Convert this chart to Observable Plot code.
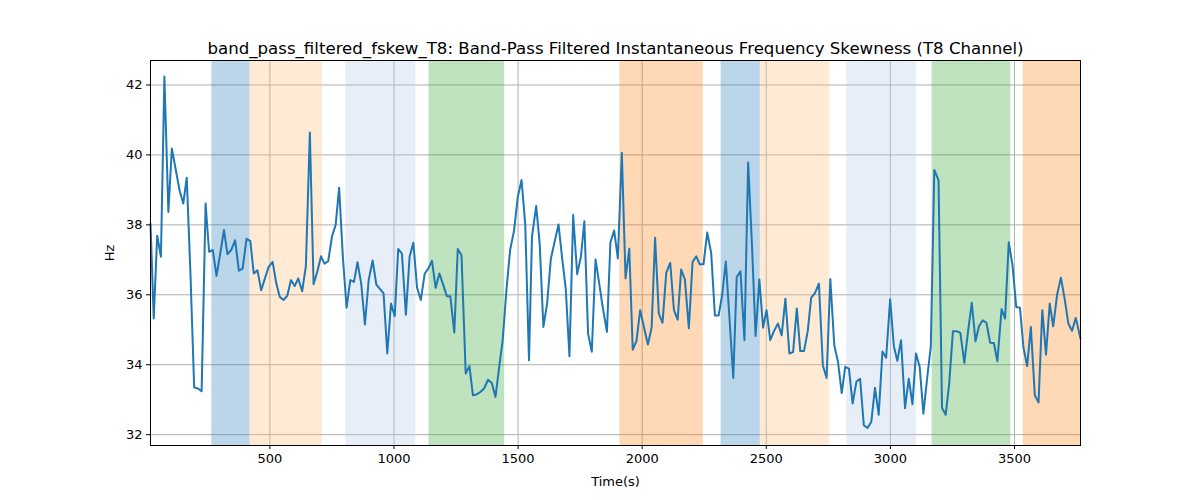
<!DOCTYPE html>
<html>
<head>
<meta charset="utf-8">
<script src="https://cdn.jsdelivr.net/npm/d3@7"></script>
<script src="https://cdn.jsdelivr.net/npm/@observablehq/plot@0.6"></script>
<style>
  html, body { margin: 0; padding: 0; background: #fff; }
  #chart svg { display: block; }
</style>
</head>
<body>
<div id="chart"></div>
<script>
const titleText = "band_pass_filtered_fskew_T8: Band-Pass Filtered Instantaneous Frequency Skewness (T8 Channel)";
const xLabel = "Time(s)";
const yLabel = "Hz";
const xTicks = [500, 1000, 1500, 2000, 2500, 3000, 3500];
const yTicks = [32, 34, 36, 38, 40, 42];

const times = [
  19, 32, 46, 61, 75, 91, 105, 121, 136, 151, 165, 180, 195, 210, 225, 241, 255, 270, 285, 300,
  315, 329, 344, 360, 375, 390, 406, 421, 435, 450, 465, 480, 495, 511, 526, 540, 555, 570, 585, 600,
  614, 630, 645, 661, 676, 691, 706, 720, 735, 750, 765, 779,
  794, 809, 824, 839, 853, 868, 883, 898, 914, 929, 944, 958, 973, 988, 1003, 1017, 1032, 1048, 1063, 1078,
  1093, 1108, 1124, 1138, 1153, 1168, 1183, 1198, 1213, 1227, 1243, 1257, 1272, 1289, 1304, 1318, 1333, 1348,
  1363, 1379, 1394, 1409, 1423, 1438, 1453, 1468, 1484, 1499, 1514, 1529, 1544,
  1556, 1573, 1587, 1602, 1617, 1632, 1647, 1663, 1677, 1692, 1707, 1722, 1738, 1753, 1767, 1782, 1797, 1812,
  1827, 1841, 1858, 1872, 1887, 1902, 1918, 1933, 1948, 1962, 1977, 1992, 2007, 2023, 2038, 2052, 2067, 2082,
  2097, 2113, 2128, 2143, 2157, 2172, 2188, 2203, 2218, 2232, 2247, 2262, 2278, 2293, 2308,
  2322, 2337, 2352, 2367, 2381, 2396, 2412, 2427, 2443, 2457, 2472, 2487, 2501, 2516, 2531, 2547, 2562, 2577,
  2593, 2608, 2623, 2637, 2652, 2667, 2681, 2696, 2712, 2728, 2743, 2758, 2774, 2789, 2804, 2818, 2833, 2848,
  2863, 2878, 2893, 2908, 2923, 2938, 2953, 2968, 2983, 2999, 3014, 3028, 3043, 3059, 3074,
  3089, 3103, 3118, 3133, 3148, 3163, 3177, 3194, 3208, 3223, 3237, 3252, 3267, 3282, 3298, 3313, 3328, 3343,
  3357, 3372, 3387, 3402, 3417, 3431, 3448, 3462, 3477, 3492, 3507, 3522, 3536, 3551, 3566, 3582, 3597, 3612,
  3627, 3642, 3656, 3672, 3687, 3702, 3717, 3732, 3747, 3766
];
const values = [
  38.04, 35.32, 37.69, 37.09, 42.24, 38.37, 40.18, 39.57, 38.99, 38.61, 39.35, 36.6, 33.35, 33.32, 33.24, 38.61, 37.23, 37.28, 36.54, 37.18,
  37.85, 37.16, 37.28, 37.56, 36.69, 36.75, 37.60, 37.54, 36.61, 36.70, 36.13, 36.47, 36.80, 36.94, 36.32, 35.94, 35.85, 35.97, 36.42, 36.25,
  36.47, 36.10, 36.82, 40.64, 36.30, 36.66, 37.10, 36.89, 36.96, 37.66, 38.00, 39.06,
  37.09, 35.63, 36.42, 36.37, 36.93, 36.32, 35.15, 36.42, 36.98, 36.29, 36.16, 36.04, 34.32, 35.75, 35.39, 37.31, 37.18, 35.43, 37.09, 37.49,
  36.20, 35.85, 36.61, 36.75, 36.97, 36.20, 36.61, 36.29, 35.96, 35.96, 34.92, 37.31, 37.13, 33.75, 33.96, 33.13, 33.15, 33.22,
  33.32, 33.57, 33.48, 33.08, 33.89, 34.70, 36.13, 37.28, 37.85, 38.80, 39.28, 38.0, 34.13,
  37.66, 38.54, 37.47, 35.08, 35.75, 37.03, 37.51, 38.01, 37.08, 36.18, 34.24, 38.28, 36.59, 37.08, 38.10, 34.89, 34.37, 37.01,
  36.32, 35.65, 34.94, 37.50, 37.84, 37.04, 40.06, 36.47, 37.32, 34.43, 34.68, 35.56, 35.08, 34.58, 35.06, 37.63, 35.46, 35.20,
  36.63, 36.91, 35.56, 35.29, 36.72, 36.44, 35.04, 36.94, 37.10, 36.87, 36.87, 37.78, 37.20, 35.41, 35.41,
  35.98, 36.95, 35.3, 33.62, 36.51, 36.67, 34.70, 39.78, 37.31, 34.82, 36.44, 35.06, 35.56, 34.70, 34.96, 35.18, 34.84, 35.89,
  34.32, 34.36, 35.61, 34.39, 34.39, 34.96, 35.92, 36.05, 36.32, 33.98, 33.62, 36.45, 34.56, 34.08, 33.19, 33.94, 33.89, 32.89,
  33.51, 33.60, 32.27, 32.19, 32.36, 33.34, 32.57, 34.38, 34.20, 35.87, 34.53, 34.11, 34.70, 32.76, 33.60,
  32.87, 34.32, 33.94, 32.60, 33.60, 34.53, 39.57, 39.28, 32.76, 32.57, 33.46, 34.96, 34.96, 34.91, 34.05, 34.96, 35.77, 34.67,
  35.10, 35.27, 35.20, 34.63, 34.62, 34.10, 35.59, 35.32, 37.50, 36.85, 35.65, 35.63, 34.5, 33.96, 35.08, 33.12, 32.92, 35.56,
  34.29, 35.75, 35.10, 36.01, 36.49, 35.89, 35.18, 34.97, 35.34, 34.75
];

const bandStarts = [266, 420, 806, 1141, 1910, 2318, 2476, 2825, 3168, 3535];
const bandEnds   = [420, 712, 1088, 1446, 2246, 2476, 2756, 3106, 3485, 3766];
const bandColors = ["#1f77b4", "#ffbb78", "#aec7e8", "#2ca02c", "#ff7f0e", "#1f77b4", "#ffbb78", "#aec7e8", "#2ca02c", "#ff7f0e"];

const series = times.map((t, i) => ({t, v: values[i]}));
const bands = bandStarts.map((s, i) => ({x1: s, x2: bandEnds[i], color: bandColors[i]}));

const chart = Plot.plot({
  width: 1200,
  height: 500,
  marginLeft: 150,
  marginRight: 120,
  marginTop: 60,
  marginBottom: 55,
  style: {fontFamily: "DejaVu Sans", fontSize: "13px", color: "#000", background: "#fff"},
  x: {domain: [19, 3766], type: "linear"},
  y: {domain: [31.69, 42.7]},
  color: {type: "identity"},
  marks: [
    Plot.gridX(xTicks, {stroke: "#b0b0b0", strokeOpacity: 1, strokeWidth: 1}),
    Plot.gridY(yTicks, {stroke: "#b0b0b0", strokeOpacity: 1, strokeWidth: 1}),
    Plot.rectX(bands, {x1: "x1", x2: "x2", fill: "color", fillOpacity: 0.3}),
    Plot.line(series, {x: "t", y: "v", stroke: "#1f77b4", strokeWidth: 2}),
    Plot.frame({stroke: "#000", strokeWidth: 1}),
    Plot.axisX({ticks: xTicks, tickFormat: d => String(d), tickSize: 4, tickPadding: 4, label: xLabel, labelAnchor: "center", labelArrow: "none", labelOffset: 40, fontSize: 13}),
    Plot.axisY({ticks: yTicks, tickFormat: d => String(d), tickSize: 4, tickPadding: 4, label: yLabel, labelAnchor: "center", labelArrow: "none", labelOffset: 46, fontSize: 13}),
    Plot.text([titleText], {frameAnchor: "top", dy: -18, fontSize: 16.6, fill: "#000"})
  ]
});
document.getElementById("chart").appendChild(chart);
</script>
</body>
</html>
